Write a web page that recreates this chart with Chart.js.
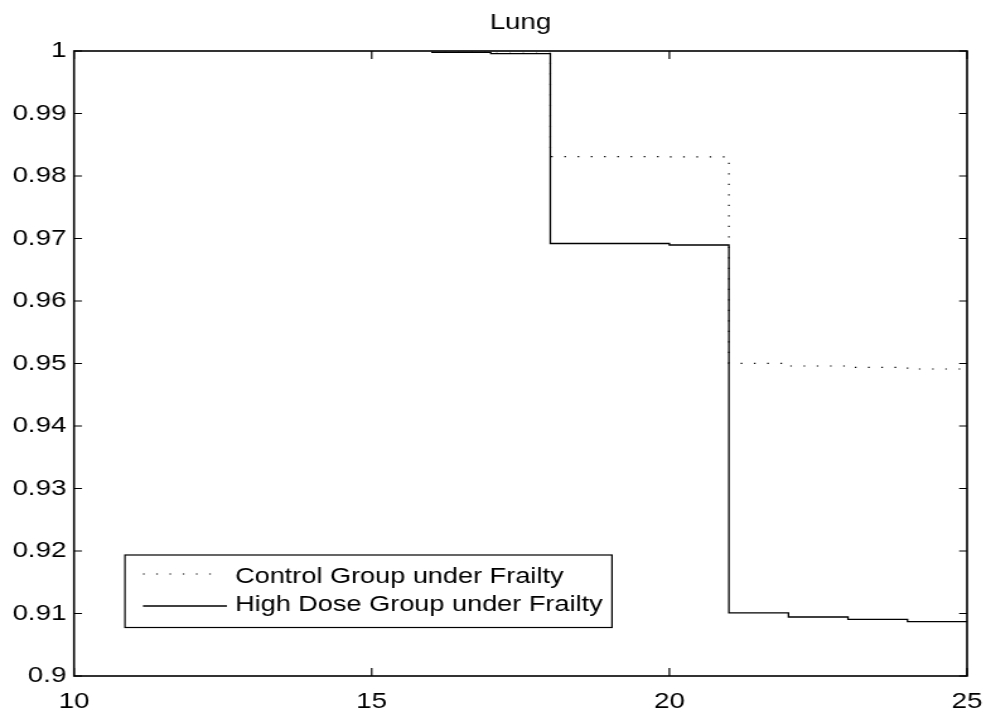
<!DOCTYPE html>
<html><head><meta charset="utf-8">
<script src="https://cdn.jsdelivr.net/npm/chart.js@4"></script>
<style>
html,body{margin:0;padding:0;background:#fff;overflow:hidden;}
#wrap{width:786px;height:715px;transform:scaleX(1.26081);transform-origin:0 0;}
</style></head><body>
<div id="wrap"><canvas id="c" width="786" height="715"></canvas></div>
<script>
const chartTitle = 'Lung';
const xTicks = [10, 15, 20, 25];
const xTickLabels = ['10', '15', '20', '25'];
const yTicks = [0.9, 0.91, 0.92, 0.93, 0.94, 0.95, 0.96, 0.97, 0.98, 0.99, 1];
const yTickLabels = ['0.9', '0.91', '0.92', '0.93', '0.94', '0.95', '0.96', '0.97', '0.98', '0.99', '1'];
const seriesNames = ['Control Group under Frailty', 'High Dose Group under Frailty'];
const controlX = [16, 17, 18, 20, 21, 22, 23, 24, 25];
const controlY = [0.9998, 0.99962, 0.98309, 0.98305, 0.95003, 0.9496, 0.94939, 0.94912, 0.94912];
const highX = [16, 17, 18, 20, 21, 22, 23, 24, 25];
const highY = [0.99979, 0.99957, 0.9692, 0.96896, 0.9101, 0.90944, 0.90907, 0.90869, 0.90869];

const FONT = '"Liberation Sans", Arial, Helvetica, sans-serif';
const toPts = (xs, ys) => xs.map((x, i) => ({x: x, y: ys[i]}));

const matlabAxes = {
  id: 'matlabAxes',
  afterDraw(chart) {
    const ctx = chart.ctx;
    const a = chart.chartArea;
    const xs = chart.scales.x, ys = chart.scales.y;
    ctx.save();
    ctx.strokeStyle = '#000';
    // inward ticks on all four sides
    ctx.lineWidth = 1.2;
    ctx.beginPath();
    xTicks.forEach(v => {
      const px = xs.getPixelForValue(v);
      ctx.moveTo(px, a.bottom); ctx.lineTo(px, a.bottom - 8);
      ctx.moveTo(px, a.top); ctx.lineTo(px, a.top + 8);
    });
    yTicks.forEach(v => {
      const py = ys.getPixelForValue(v);
      ctx.moveTo(a.left, py); ctx.lineTo(a.left + 6.3, py);
      ctx.moveTo(a.right, py); ctx.lineTo(a.right - 6.3, py);
    });
    ctx.stroke();
    // box
    ctx.lineWidth = 1.6;
    ctx.strokeRect(a.left, a.top, a.right - a.left, a.bottom - a.top);

    // legend (inside plot, lower left)
    const L = 99.1, R = 485.4, T = 555, B = 627.5;
    ctx.fillStyle = '#fff';
    ctx.fillRect(L, T, R - L, B - T);
    ctx.lineWidth = 1.2;
    ctx.strokeRect(L, T, R - L, B - T);
    const rows = [574, 606];
    const textY = [577, 605];
    chart.data.datasets.forEach((ds, i) => {
      ctx.save();
      ctx.strokeStyle = ds.borderColor;
      ctx.lineWidth = ds.borderWidth;
      ctx.setLineDash(ds.borderDash || []);
      ctx.beginPath();
      ctx.moveTo(113.4, rows[i]);
      ctx.lineTo(i === 0 ? 176 : 180, rows[i]);
      ctx.stroke();
      ctx.restore();
      ctx.fillStyle = '#000';
      ctx.font = '21.5px ' + FONT;
      ctx.textBaseline = 'middle';
      ctx.textAlign = 'left';
      ctx.fillText(ds.label, 186.4, textY[i]);
    });
    ctx.restore();
  }
};

new Chart(document.getElementById('c'), {
  type: 'line',
  data: {
    datasets: [
      {label: seriesNames[0], data: toPts(controlX, controlY), stepped: true,
       borderColor: '#000', borderWidth: 1.2, borderDash: [1.3, 9.2], pointRadius: 0, fill: false},
      {label: seriesNames[1], data: toPts(highX, highY), stepped: true,
       borderColor: '#000', borderWidth: 1.3, pointRadius: 0, fill: false}
    ]
  },
  options: {
    responsive: false,
    animation: false,
    devicePixelRatio: 1,
    layout: {padding: {left: 0, right: 19, top: 0, bottom: 0}},
    plugins: {
      legend: {display: false},
      tooltip: {enabled: false},
      title: {display: true, text: chartTitle, color: '#000', fullSize: false,
        font: {family: FONT, size: 22, weight: 'normal'}, padding: {top: 10, bottom: 14.6}}
    },
    scales: {
      x: {
        type: 'linear', min: 10, max: 25,
        grid: {display: false, drawTicks: false},
        border: {display: false},
        afterBuildTicks(s) { s.ticks = xTicks.map(v => ({value: v})); },
        afterFit(s) { s.height = 39; s.paddingLeft = 0; s.paddingRight = 0; },
        ticks: {color: '#000', font: {family: FONT, size: 22}, padding: 13, maxRotation: 0,
          callback: (v, i) => xTickLabels[i]}
      },
      y: {
        type: 'linear', min: 0.9, max: 1,
        grid: {display: false, drawTicks: false},
        border: {display: false},
        afterBuildTicks(s) { s.ticks = yTicks.map(v => ({value: v})); },
        afterFit(s) { s.width = 58.7; s.paddingTop = 0; s.paddingBottom = 0; },
        ticks: {color: '#000', font: {family: FONT, size: 22}, padding: 6,
          callback: (v, i) => yTickLabels[i]}
      }
    }
  },
  plugins: [matlabAxes]
});
</script>
</body></html>
